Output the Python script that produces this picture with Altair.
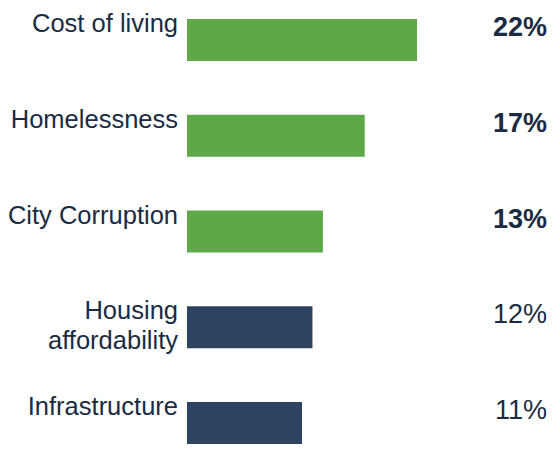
import altair as alt
import pandas as pd

categories = ["Cost of living", "Homelessness", "City Corruption", "Housing\naffordability", "Infrastructure"]
values = [22, 17, 13, 12, 11]
highlight = [True, True, True, False, False]
labels = ["22%", "17%", "13%", "12%", "11%"]

df = pd.DataFrame({"cat": categories, "val": values, "hl": highlight, "lab": labels})

TEXT = "#1b2b42"
FONT = "Liberation Sans"

yenc = alt.Y("cat:N", sort=categories, axis=None,
             scale=alt.Scale(type="point", padding=0, range=[32, 415]))

base = alt.Chart(df)

bars = base.mark_bar(size=42).encode(
    x=alt.X("val:Q", axis=None, scale=alt.Scale(domain=[0, 22], range=[179, 409])),
    y=yenc,
    color=alt.Color("hl:N", legend=None,
                    scale=alt.Scale(domain=[True, False], range=["#5fa84a", "#2e4461"])),
)

names = base.mark_text(align="right", baseline="alphabetic", dy=-8, fontSize=25.5,
                       font=FONT, color=TEXT, lineBreak="\n", lineHeight=30).encode(
    x=alt.value(170), y=yenc, text="cat:N")

pct_bold = base.transform_filter("datum.hl").mark_text(
    align="right", baseline="alphabetic", dy=-4, fontSize=27, fontWeight="bold",
    font=FONT, color=TEXT).encode(x=alt.value(539), y=yenc, text="lab:N")

pct_norm = base.transform_filter("!datum.hl").mark_text(
    align="right", baseline="alphabetic", dy=-4, fontSize=27,
    font=FONT, color=TEXT).encode(x=alt.value(539), y=yenc, text="lab:N")

chart = alt.layer(bars, names, pct_bold, pct_norm).properties(
    width=540, height=436, padding=0, autosize=alt.AutoSizeParams(type="none")
).configure_view(stroke=None)

chart.save("out.html", embed_options={"renderer": "svg", "actions": False})
